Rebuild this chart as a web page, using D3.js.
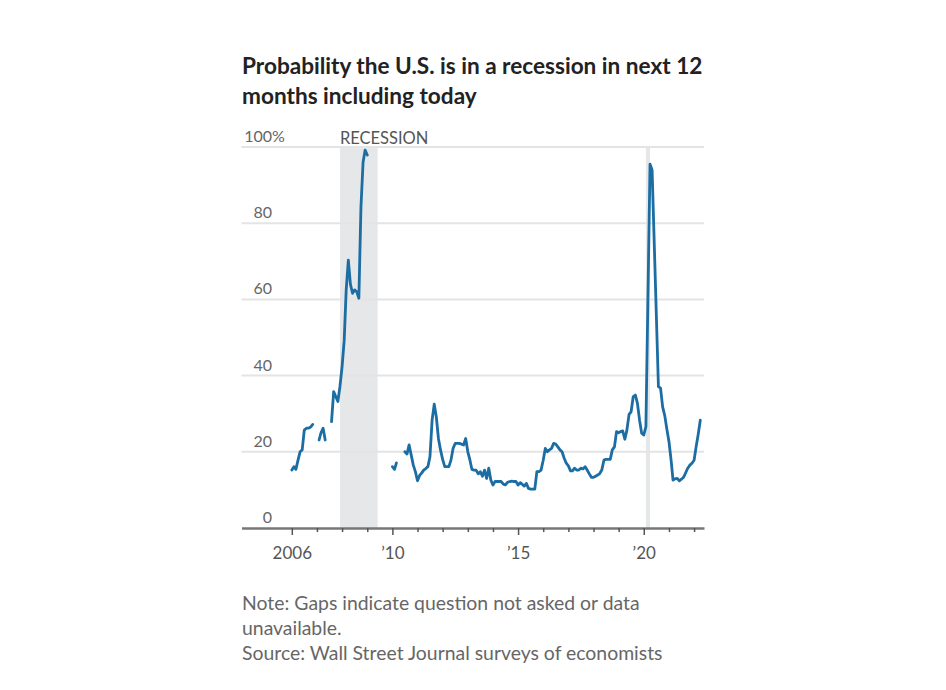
<!DOCTYPE html>
<html>
<head>
<meta charset="utf-8">
<script src="https://cdn.jsdelivr.net/npm/d3@7"></script>
<style>
  body { margin: 0; background: #fff; }
  text { font-family: Lato, "Noto Sans", sans-serif; }
</style>
</head>
<body>
<script>
'use strict';

// Survey readings, one segment per unbroken run of the line
var seg2006 = [
  ["2006-01", 15.2], ["2006-02", 16.1], ["2006-03", 15.4], ["2006-04", 17.8],
  ["2006-05", 20], ["2006-06", 20.5], ["2006-07", 25.7], ["2006-08", 26.2],
  ["2006-09", 26.2], ["2006-10", 26.5], ["2006-11", 27.2]
];
var seg2007a = [["2007-02", 23.1], ["2007-03", 25], ["2007-04", 26.2], ["2007-05", 23.1]];
var seg2007b = [
  ["2007-08", 27.9], ["2007-09", 35.8], ["2007-10", 34.5], ["2007-11", 33.2], ["2007-12", 37.1],
  ["2008-01", 42.3], ["2008-02", 49.3], ["2008-03", 62.5], ["2008-04", 70.3], ["2008-05", 64],
  ["2008-06", 61.6], ["2008-07", 62.5], ["2008-08", 62], ["2008-09", 60.3], ["2008-10", 84],
  ["2008-11", 96], ["2008-12", 99.2], ["2009-01", 97.9]
];
var seg2010a = [["2010-01", 16.1], ["2010-02", 15.4], ["2010-03", 17.1]];
var seg2010b = [
  ["2010-07", 20], ["2010-08", 19.4], ["2010-09", 21.8], ["2010-10", 19.2], ["2010-11", 16.5], ["2010-12", 14.8],
  ["2011-01", 12.4], ["2011-02", 13.8], ["2011-03", 14.4], ["2011-04", 15.2], ["2011-05", 15.6], ["2011-06", 16.1],
  ["2011-07", 18.7], ["2011-08", 28.3], ["2011-09", 32.5], ["2011-10", 29.2], ["2011-11", 23.5], ["2011-12", 20.5],
  ["2012-01", 18], ["2012-02", 16.1], ["2012-03", 16.1], ["2012-04", 16.1], ["2012-05", 17.8], ["2012-06", 20.9],
  ["2012-07", 22.2], ["2012-08", 22.2], ["2012-09", 22.2], ["2012-10", 22], ["2012-11", 21.8], ["2012-12", 23.5],
  ["2013-01", 20], ["2013-02", 17.8], ["2013-03", 15.4], ["2013-04", 15.2], ["2013-05", 15.2], ["2013-06", 14.2],
  ["2013-07", 14.8], ["2013-08", 13.6], ["2013-09", 15.2], ["2013-10", 13], ["2013-11", 15.7], ["2013-12", 12.6],
  ["2014-01", 11.3], ["2014-02", 12.2], ["2014-03", 12.2], ["2014-04", 12.2], ["2014-05", 12.2], ["2014-06", 11.5],
  ["2014-07", 11.3], ["2014-08", 12], ["2014-09", 12.2], ["2014-10", 12.3], ["2014-11", 12.2], ["2014-12", 12.2],
  ["2015-01", 11.3], ["2015-02", 11.9], ["2015-03", 11.5], ["2015-04", 11], ["2015-05", 11.7], ["2015-06", 10.4],
  ["2015-07", 10.2], ["2015-08", 10.2], ["2015-09", 10.2], ["2015-10", 14.8], ["2015-11", 14.8], ["2015-12", 15.2],
  ["2016-01", 17.8], ["2016-02", 20.9], ["2016-03", 20], ["2016-04", 20.5], ["2016-05", 20.9], ["2016-06", 22.2],
  ["2016-07", 22], ["2016-08", 21.3], ["2016-09", 20.5], ["2016-10", 20], ["2016-11", 18.3], ["2016-12", 17],
  ["2017-01", 16.3], ["2017-02", 15], ["2017-03", 15], ["2017-04", 15.7], ["2017-05", 15.2], ["2017-06", 15.2],
  ["2017-07", 15.7], ["2017-08", 15.5], ["2017-09", 16.1], ["2017-10", 15.2], ["2017-11", 14.2], ["2017-12", 13.3],
  ["2018-01", 13.3], ["2018-02", 13.6], ["2018-03", 13.9], ["2018-04", 14.3], ["2018-05", 15.2], ["2018-06", 17.8],
  ["2018-07", 18], ["2018-08", 18], ["2018-09", 18], ["2018-10", 20.5], ["2018-11", 21.3], ["2018-12", 25.3],
  ["2019-01", 25], ["2019-02", 25.3], ["2019-03", 25.5], ["2019-04", 23.3], ["2019-05", 25.7], ["2019-06", 29.8],
  ["2019-07", 30.5], ["2019-08", 34.5], ["2019-09", 34.9], ["2019-10", 32.7], ["2019-11", 28.3], ["2019-12", 24.9],
  ["2020-01", 24.4], ["2020-02", 26.6], ["2020-04", 95.5], ["2020-05", 94],
  ["2020-08", 37.1], ["2020-09", 36.7], ["2020-10", 31.8], ["2020-11", 29.5], ["2020-12", 26],
  ["2021-01", 22.7], ["2021-02", 17.8], ["2021-03", 12.6], ["2021-04", 12.9], ["2021-05", 13], ["2021-06", 12.4],
  ["2021-07", 12.8], ["2021-08", 13.3], ["2021-09", 14.5], ["2021-10", 15.7], ["2021-11", 16.5], ["2021-12", 17],
  ["2022-01", 17.8], ["2022-02", 21.5], ["2022-03", 24.5], ["2022-04", 28.3]
];
var segments = [seg2006, seg2007a, seg2007b, seg2010a, seg2010b];

var recessions = [["2007-12", "2009-06"], ["2020-02", "2020-04"]];
var yTicks = [0, 20, 40, 60, 80, 100];
var tickYears = d3.range(2006, 2023);
var yearLabels = { 2006: "2006", 2010: "\u201910", 2015: "\u201915", 2020: "\u201920" };

var titleLines = ["Probability the U.S. is in a recession in next 12", "months including today"];
var noteLines = [
  "Note: Gaps indicate question not asked or data",
  "unavailable.",
  "Source: Wall Street Journal surveys of economists"
];

var width = 946, height = 690;
var parseMonth = d3.timeParse("%Y-%m");

var svg = d3.select("body").append("svg")
    .attr("width", width)
    .attr("height", height);

var x = d3.scaleTime()
    .domain([new Date(2004, 0, 1), new Date(2022, 4, 25)])
    .range([241.5, 704]);

var y = d3.scaleLinear()
    .domain([0, 100])
    .range([528, 147]);

// Title
svg.append("g").selectAll("text")
    .data(titleLines)
    .enter().append("text")
    .attr("x", 242)
    .attr("y", function(d, i) { return 74 + i * 30; })
    .attr("font-size", 22.6)
    .attr("font-weight", "bold")
    .attr("fill", "#222")
    .text(function(d) { return d; });

// Recession bands
svg.append("g").selectAll("rect")
    .data(recessions)
    .enter().append("rect")
    .attr("x", function(d) { return x(parseMonth(d[0])); })
    .attr("width", function(d) { return x(parseMonth(d[1])) - x(parseMonth(d[0])); })
    .attr("y", y(100) - 1)
    .attr("height", y(0) - y(100) + 1)
    .attr("fill", "#e6e7e8");

svg.append("text")
    .attr("x", x(parseMonth(recessions[0][0])))
    .attr("y", 144)
    .attr("font-size", 16.5)
    .attr("fill", "#555")
    .text("RECESSION");

// Gridlines
svg.append("g").selectAll("line")
    .data(yTicks.filter(function(d) { return d > 0; }))
    .enter().append("line")
    .attr("x1", 241.5)
    .attr("x2", 704)
    .attr("y1", function(d) { return y(d); })
    .attr("y2", function(d) { return y(d); })
    .attr("stroke", "#e4e4e4")
    .attr("stroke-width", 2);

// Y labels
var yLab = svg.append("g");
yLab.selectAll("text")
    .data(yTicks)
    .enter().append("text")
    .attr("x", 272)
    .attr("y", function(d) { return y(d) - 5; })
    .attr("text-anchor", "end")
    .attr("font-size", 16)
    .attr("fill", "#666")
    .text(function(d) { return d; });
yLab.append("text")
    .attr("x", 272)
    .attr("y", y(100) - 5)
    .attr("font-size", 16)
    .attr("fill", "#666")
    .text("%");

// X axis
var xAxis = svg.append("g")
    .attr("transform", "translate(0,528)")
    .call(d3.axisBottom(x)
      .tickValues(tickYears.map(function(yr) { return new Date(yr, 0, 1); }))
      .tickSize(4)
      .tickSizeOuter(0)
      .tickFormat(function(d) { return yearLabels[d.getFullYear()] || ""; }));

xAxis.select(".domain")
    .attr("stroke", "#777")
    .attr("stroke-width", 2.5);
xAxis.selectAll(".tick line")
    .attr("stroke", "#555")
    .attr("stroke-width", 1.5)
    .attr("y2", function(d) { return yearLabels[d.getFullYear()] ? 7 : 4; });
xAxis.selectAll(".tick text")
    .attr("y", 31)
    .attr("dy", 0)
    .attr("font-size", 17)
    .attr("font-family", "Lato, 'Noto Sans', sans-serif")
    .attr("fill", "#555");

// Line
var line = d3.line()
    .x(function(d) { return x(parseMonth(d[0])); })
    .y(function(d) { return y(d[1]); });

svg.append("g").selectAll("path")
    .data(segments)
    .enter().append("path")
    .attr("d", line)
    .attr("fill", "none")
    .attr("stroke", "#1b6da3")
    .attr("stroke-width", 2.8)
    .attr("stroke-linejoin", "round")
    .attr("stroke-linecap", "round");

// Notes
svg.append("g").selectAll("text")
    .data(noteLines)
    .enter().append("text")
    .attr("x", 242)
    .attr("y", function(d, i) { return 610 + i * 25; })
    .attr("font-size", 19.4)
    .attr("fill", "#666")
    .text(function(d) { return d; });
</script>
</body>
</html>
